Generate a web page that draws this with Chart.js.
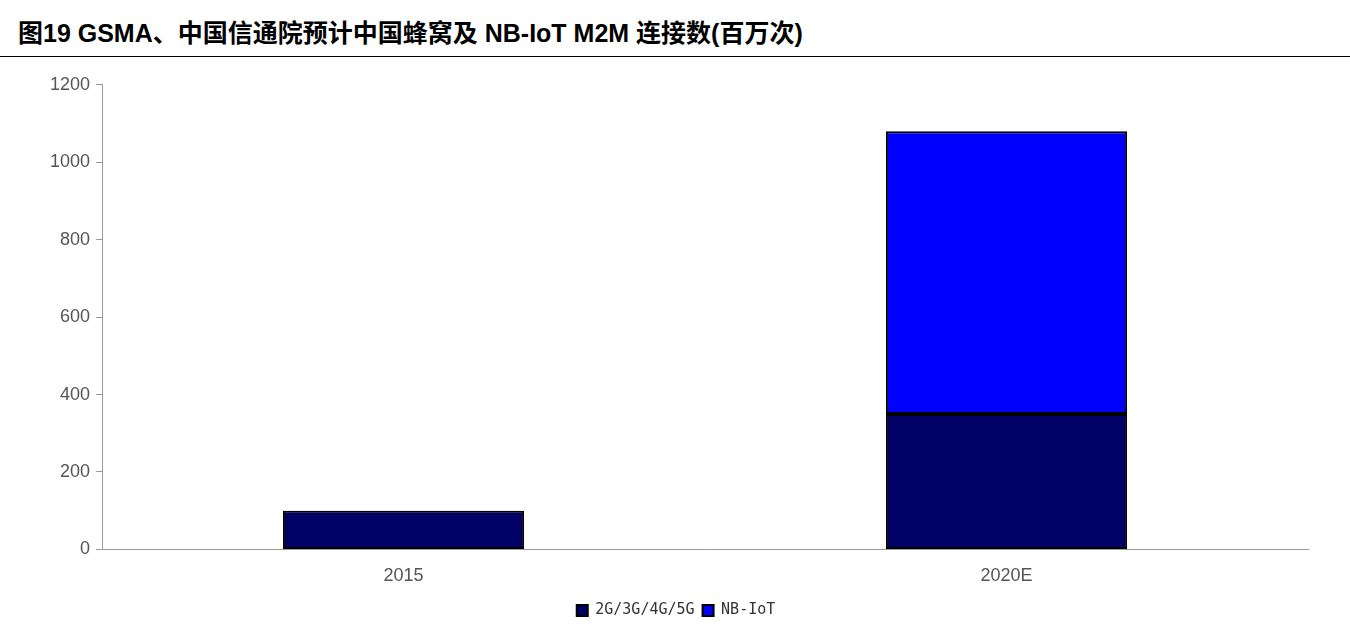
<!DOCTYPE html>
<html><head><meta charset="utf-8">
<script src="https://cdn.jsdelivr.net/npm/chart.js@4"></script>
<style>
body{margin:0;background:#fff;font-family:"Liberation Sans",Arial,sans-serif}
#title{position:absolute;left:18px;top:13px;font-size:25px;font-weight:bold;font-family:"Liberation Sans","Noto Sans CJK SC",sans-serif;color:#000}
#rule{position:absolute;left:0;top:56px;width:1350px;height:1px;background:#000}
#wrap{position:absolute;left:0;top:68px;width:1350px;height:564px}
</style></head><body>
<div id="title">图19 GSMA、中国信通院预计中国蜂窝及 NB-IoT M2M 连接数(百万次)</div>
<div id="rule"></div>
<div id="wrap"><canvas id="c"></canvas></div>
<script>
const categories = ['2015', '2020E'];
const cellular = [100, 350];
const nbiot = [0, 730];
const yTicks = [0, 200, 400, 600, 800, 1000, 1200];

new Chart(document.getElementById('c'), {
  type: 'bar',
  data: {
    labels: categories,
    datasets: [
      {label: '2G/3G/4G/5G', data: cellular, backgroundColor: '#000066', borderColor: '#000', borderWidth: 2, borderSkipped: false},
      {label: 'NB-IoT', data: nbiot, backgroundColor: '#0000ff', borderColor: '#000', borderWidth: 2, borderSkipped: false}
    ]
  },
  options: {
    responsive: true, maintainAspectRatio: false, animation: false,
    layout: {padding: {left: 44, right: 42, top: 12, bottom: 4}},
    datasets: {bar: {barPercentage: 0.4, categoryPercentage: 1}},
    plugins: {
      tooltip: {enabled: false},
      legend: {position: 'bottom', labels: {boxWidth: 11, boxHeight: 11, padding: 8, font: {size: 15, family: 'DejaVu Sans Mono'}, color: '#333'}}
    },
    scales: {
      x: {stacked: true, grid: {display: false}, border: {color: '#999'},
          ticks: {color: '#555', font: {size: 18}, padding: 8}},
      y: {stacked: true, min: 0, max: 1200, border: {color: '#999'},
          grid: {drawOnChartArea: false, drawTicks: true, tickLength: 6, color: '#999'},
          afterBuildTicks: a => { a.ticks = yTicks.map(v => ({value: v})); },
          ticks: {color: '#555', font: {size: 18}, padding: 6, callback: v => String(v)}}
    }
  }
});
</script></body></html>
